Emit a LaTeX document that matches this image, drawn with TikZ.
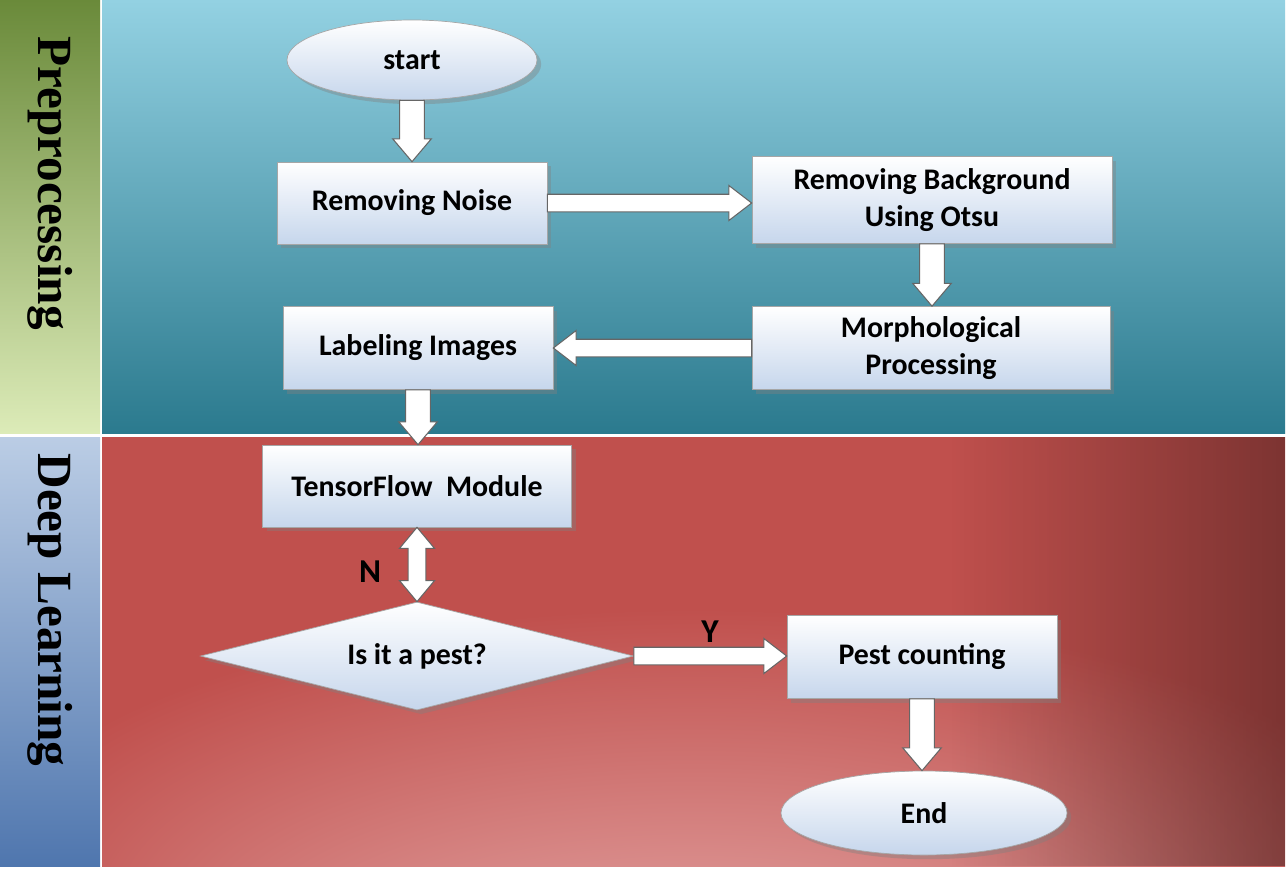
\documentclass[tikz,border=0pt]{standalone}
\usepackage{fontspec}
\setmainfont{Carlito}
\newfontfamily\sidefont{Liberation Serif}
\usetikzlibrary{shapes.geometric,shadows,calc,fadings}
\definecolor{redbase}{HTML}{C0504D}
\definecolor{boxbot}{HTML}{C6D6EC}
\definecolor{tealtop}{HTML}{93D1E2}
\definecolor{tealmid}{HTML}{4BAFCB}
\definecolor{tealbot}{HTML}{2B7A8E}
\definecolor{grtop}{HTML}{6A8A3A}
\definecolor{grbot}{HTML}{DCEBB8}
\definecolor{bltop}{HTML}{BBCDE5}
\definecolor{blbot}{HTML}{4F76AE}
\definecolor{pinkc}{HTML}{EDBCBC}
\pgfdeclareradialshading{redglow}{\pgfpoint{0bp}{-50bp}}{color(0bp)=(pinkc);color(30bp)=(redbase);color(60bp)=(redbase)}
\tikzset{
 box/.style={draw=gray!70,top color=white,bottom color=boxbot,drop shadow={opacity=0.4},font=\bfseries\fontsize{17}{21}\selectfont,align=center,inner sep=0pt},
 barrow/.style={draw=gray!80!black,fill=white,line width=0.6pt},
 side/.style={font=\sidefont\bfseries\fontsize{28}{30}\selectfont,rotate=-90}
}
\newcommand\darr[2]{\path[barrow] let \p1=(#1),\p2=(#2) in (\x1-7pt,\y1) -- (\x1+7pt,\y1) -- (\x1+7pt,\y2+13pt) -- (\x1+11pt,\y2+13pt) -- (\x1,\y2) -- (\x1-11pt,\y2+13pt) -- (\x1-7pt,\y2+13pt) -- cycle;}
\newcommand\rarr[2]{\path[barrow] let \p1=(#1),\p2=(#2) in (\x1,\y1+5pt) -- (\x2-13pt,\y1+5pt) -- (\x2-13pt,\y1+10pt) -- (\x2,\y1) -- (\x2-13pt,\y1-10pt) -- (\x2-13pt,\y1-5pt) -- (\x1,\y1-5pt) -- cycle;}
\newcommand\larr[2]{\path[barrow] let \p1=(#1),\p2=(#2) in (\x1,\y1+5pt) -- (\x2+13pt,\y1+5pt) -- (\x2+13pt,\y1+10pt) -- (\x2,\y1) -- (\x2+13pt,\y1-10pt) -- (\x2+13pt,\y1-5pt) -- (\x1,\y1-5pt) -- cycle;}
\newcommand\udarr[2]{\path[barrow] let \p1=(#1),\p2=(#2) in (\x1,\y1) -- (\x1+10pt,\y1-12pt) -- (\x1+5pt,\y1-12pt) -- (\x1+5pt,\y2+12pt) -- (\x1+10pt,\y2+12pt) -- (\x1,\y2) -- (\x1-10pt,\y2+12pt) -- (\x1-5pt,\y2+12pt) -- (\x1-5pt,\y1-12pt) -- (\x1-10pt,\y1-12pt) -- cycle;}
\begin{document}
\begin{tikzpicture}[x=0.02cm,y=-0.02cm]
\useasboundingbox (0,0) rectangle (1288,877);
\fill[white] (0,0) rectangle (1288,877);
% side bands
\shade[top color=grtop, bottom color=grbot] (0,0) rectangle (100,433);
\shade[top color=bltop, bottom color=blbot] (0,437) rectangle (100,866);
\node[side] (pre) at (50,183) {Preprocessing};
\node[side] (dl) at (50,610) {Deep Learning};
% main panels
\shade[top color=tealtop, middle color=tealmid, bottom color=tealbot] (102,0) rectangle (1285,433);
\shade[shading=redglow] (102,437) rectangle (1285,866);
\fill[black,opacity=0.35,path fading=west] (950,437) rectangle (1285,866);
% nodes
\node[box,ellipse,minimum width=250*0.02cm,minimum height=80*0.02cm] (start) at (412,60) {start};
\node[box,minimum width=270*0.02cm,minimum height=82*0.02cm] (noise) at (412,203) {Removing Noise};
\node[box,minimum width=360*0.02cm,minimum height=87*0.02cm] (bg) at (932,200) {Removing Background\\Using Otsu};
\node[box,minimum width=358*0.02cm,minimum height=83*0.02cm] (morph) at (931,348) {Morphological\\Processing};
\node[box,minimum width=270*0.02cm,minimum height=83*0.02cm] (label) at (418,348) {Labeling Images};
\node[box,minimum width=309*0.02cm,minimum height=82*0.02cm] (tf) at (417,486) {TensorFlow\ \ Module};
\node[box,diamond,aspect=4,minimum width=433*0.02cm,minimum height=108*0.02cm] (pest) at (417,656) {Is it a pest?};
\node[box,minimum width=270*0.02cm,minimum height=83*0.02cm] (count) at (922,657) {Pest counting};
\node[box,ellipse,minimum width=286*0.02cm,minimum height=84*0.02cm] (end) at (924,813) {End};
% arrows
\darr{start.south}{noise.north}
\rarr{noise.east}{bg.west}
\darr{bg.south}{morph.north}
\larr{morph.west}{label.east}
\darr{label.south}{tf.north}
\udarr{tf.south}{pest.north}
\rarr{pest.east}{count.west}
\darr{count.south}{end.north}
\node[font=\bfseries\fontsize{19}{22}\selectfont] (n) at (370,572) {N};
\node[font=\bfseries\fontsize{19}{22}\selectfont] (y) at (710,632) {Y};
\end{tikzpicture}
\end{document}
